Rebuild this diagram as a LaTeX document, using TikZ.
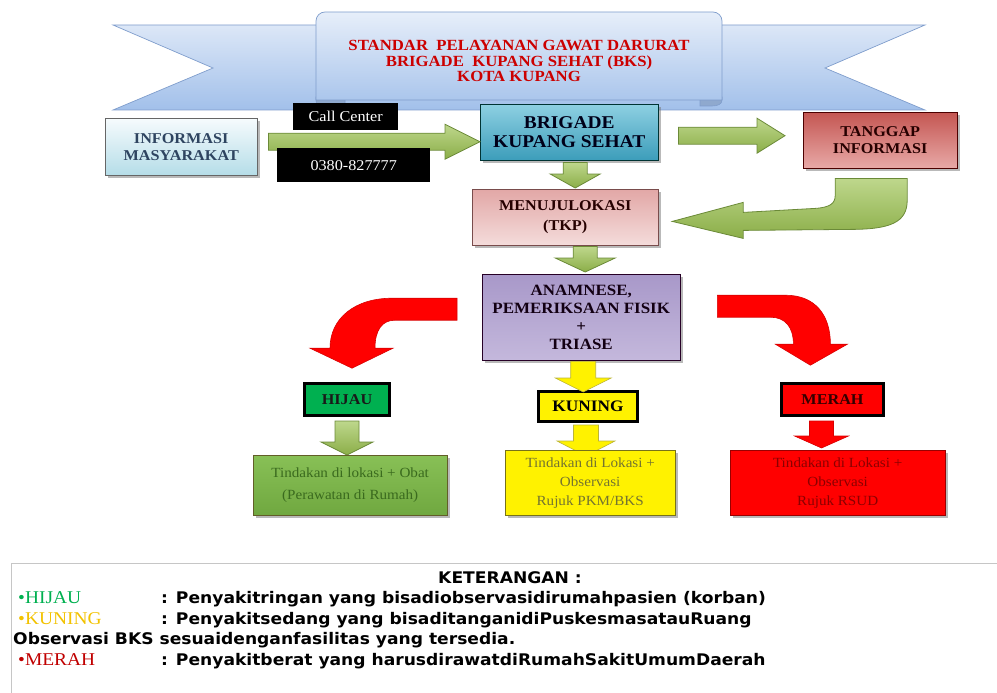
\documentclass[tikz,border=0pt]{standalone}
\usepackage{fontspec}
\setmainfont{Liberation Serif}[FakeStretch=1.08]
\newfontfamily\legfont{DejaVu Sans}[FakeStretch=1.07]
\usetikzlibrary{calc,shadows}
\definecolor{ribtop}{HTML}{DCE7F7}
\definecolor{ribbot}{HTML}{A2C0EA}
\definecolor{ribline}{HTML}{7F9DCC}
\definecolor{titlered}{HTML}{CC0000}
\definecolor{gtop}{HTML}{BED78C}
\definecolor{gbot}{HTML}{8BAE48}
\definecolor{gline}{HTML}{6B8A38}
\definecolor{hgreen}{HTML}{00B050}
\definecolor{kyellow}{HTML}{F2C200}
\definecolor{mred}{HTML}{C00000}
\definecolor{infotop}{HTML}{F6FBFD}
\definecolor{infobot}{HTML}{B5DDE8}
\definecolor{infotext}{HTML}{2E4460}
\definecolor{brigtop}{HTML}{8ED0E2}
\definecolor{brigbot}{HTML}{3C9DBA}
\definecolor{tangtop}{HTML}{C45652}
\definecolor{tangbot}{HTML}{E8A9A7}
\definecolor{menutop}{HTML}{E2A7A6}
\definecolor{menubot}{HTML}{F4DCDB}
\definecolor{anamtop}{HTML}{A898C9}
\definecolor{anammid}{HTML}{7C64A4}
\definecolor{anambot}{HTML}{C4B8DC}
\definecolor{restop}{HTML}{88C056}
\definecolor{resbot}{HTML}{70A840}
\definecolor{restext}{HTML}{3A6A1E}
\definecolor{ytext}{HTML}{747430}
\definecolor{rtext}{HTML}{8A0000}
\newcommand{\vblock}[6]{%
  \path[#1] let \p1=#2, \p2=#3 in
    (\x1-#4,\y1) -- (\x1+#4,\y1) -- (\x1+#4,\y2+#6) -- (\x1+#5,\y2+#6)
    -- (\x1,\y2) -- (\x1-#5,\y2+#6) -- (\x1-#4,\y2+#6) -- cycle;}
\newcommand{\hblock}[6]{%
  \path[#1] let \p1=#2, \p2=#3 in
    (\x1,\y1+#4) -- (\x2-#6,\y1+#4) -- (\x2-#6,\y1+#5) -- (\x2,\y1)
    -- (\x2-#6,\y1-#5) -- (\x2-#6,\y1-#4) -- (\x1,\y1-#4) -- cycle;}
\begin{document}
\begin{tikzpicture}[x=1pt,y=-1pt,
  box/.style={draw, anchor=north west, align=center, inner sep=2pt,
    drop shadow={shadow xshift=2.5pt, shadow yshift=-2.5pt, fill=black!55}},
  hdr/.style={box, font=\bfseries\fontsize{15}{17}\selectfont},
  blackbox/.style={anchor=north west, fill=black, text=white, inner sep=0pt,
    font=\fontsize{15}{17}\selectfont},
  tagbox/.style={anchor=north west, draw=black, line width=3pt, inner sep=0pt,
    font=\bfseries\fontsize{15}{17}\selectfont},
  resbox/.style={box, font=\fontsize{14}{19}\selectfont},
  garrow/.style={top color=gtop, bottom color=gbot, draw=gline, line width=0.8pt},
  yarrow/.style={fill=yellow, draw=yellow!70!black, line width=0.6pt},
  rarrow/.style={fill=red, draw=red!85!black, line width=0.6pt},
  legtxt/.style={anchor=base west, inner sep=0pt, font=\legfont\bfseries\fontsize{16}{20}\selectfont},
  legtag/.style={anchor=base west, inner sep=0pt, font=\fontsize{18}{20}\selectfont}
]
\useasboundingbox (0,0) rectangle (997,693);

% ---- ribbon banner ----
\path[top color=ribtop, bottom color=ribbot, draw=ribline, line width=0.7pt]
  (113,25) -- (925,25) -- (825,68) -- (925,110) -- (113,110) -- (213,68) -- cycle;
\path[fill=ribbot!80!black!60!ribbot, draw=ribline, line width=0.6pt]
  (316,97) -- (345,97) -- (345,108) -- (325,108) .. controls (318,108) and (316,104) .. (316,100) -- cycle;
\path[fill=ribbot!80!black!60!ribbot, draw=ribline, line width=0.6pt]
  (700,97) -- (722,97) -- (722,100) .. controls (722,104) and (718,106) .. (712,106) -- (700,106) -- cycle;
\path[top color=ribtop!70!white, bottom color=ribbot!85!ribtop, draw=ribline, line width=0.7pt]
  (316,100) [rounded corners=9pt] -- (316,12) -- (722,12) [sharp corners] -- (722,100) -- cycle;
\node[text=titlered, align=center, font=\bfseries\fontsize{15.5}{15.5}\selectfont] (title) at (519,61)
  {STANDAR\ \ PELAYANAN GAWAT DARURAT\\BRIGADE\ \ KUPANG SEHAT (BKS)\\KOTA KUPANG};

% ---- top row boxes ----
\node[hdr, minimum width=152pt, minimum height=57pt, top color=infotop, bottom color=infobot,
  draw=gray!80!black, text=infotext] (info) at (105,118) {INFORMASI\\MASYARAKAT};
\node[hdr, minimum width=178pt, minimum height=56pt, top color=brigtop, bottom color=brigbot,
  draw=teal!40!black, text=black!90!blue, font=\bfseries\fontsize{18}{19}\selectfont] (brig) at (480,104) {BRIGADE\\KUPANG SEHAT};
\node[hdr, minimum width=154pt, minimum height=56pt, top color=tangtop, bottom color=tangbot,
  draw=red!30!black, text=black!85!red] (tang) at (803,112) {TANGGAP\\INFORMASI};

% ---- arrows info -> brigade (under black boxes) ----
\hblock{garrow}{($(info.east)+(11,-5)$)}{($(brig.west)+(0,10)$)}{8.5pt}{17.5pt}{35pt}
\node[blackbox, minimum width=105pt, minimum height=27pt] (call) at (293,103) {Call Center};
\node[blackbox, minimum width=153pt, minimum height=34pt] (num) at (277,148) {0380-827777};

\hblock{garrow}{($(brig.east)+(20,3.5)$)}{($(tang.west)+(-18,0)$)}{8.5pt}{17.5pt}{28pt}

% ---- middle column ----
\node[hdr, minimum width=186pt, minimum height=56pt, top color=menutop, bottom color=menubot,
  draw=red!25!black!70, text=black!85!red, font=\bfseries\fontsize{15}{20}\selectfont] (menu) at (472,189) {MENUJULOKASI\\(TKP)};
\node[hdr, minimum width=198pt, minimum height=86pt, top color=anamtop, middle color=anammid,
  bottom color=anambot, draw=violet!30!black, text=black!85!violet,
  font=\bfseries\fontsize{15.7}{18}\selectfont] (anam) at (482,274) {ANAMNESE,\\PEMERIKSAAN FISIK\\+\\TRIASE};

\vblock{garrow}{($(brig.south)+(6,2)$)}{($(menu.north)+(6,-1)$)}{12pt}{25pt}{14pt}
\vblock{garrow}{($(menu.south)+(20,1)$)}{($(anam.north)+(0,-2)$)}{12pt}{30pt}{14pt}

% U-turn arrow from TANGGAP to MENUJU
\begin{scope}[shift={(tang.south)}]
\path[garrow] (-45,10) -- (27,10) -- (27,32) .. controls (27,54) and (10,61) .. (-30,61)
  -- (-137,62) -- (-137,70) -- (-208,53) -- (-137,34) -- (-137,44) -- (-65,40)
  .. controls (-50,39) and (-45,35) .. (-45,27) -- cycle;
\end{scope}

% ---- triage tags ----
\node[tagbox, minimum width=85pt, minimum height=32pt, fill=hgreen, text=black!90] (hijau) at (303,382) {HIJAU};
\node[tagbox, minimum width=99pt, minimum height=30pt, fill=yellow, text=black, font=\bfseries\fontsize{16}{18}\selectfont] (kuning) at (537,390) {KUNING};
\node[tagbox, minimum width=102pt, minimum height=32pt, fill=red, text=black!80!red] (merah) at (780,382) {MERAH};

% red curved arrows
\begin{scope}[shift={(anam.west)}]
\path[rarrow] (-25,-19) -- (-90,-19) .. controls (-127,-19) and (-152,1) .. (-152,31)
  -- (-172,31) -- (-130,51) -- (-89,31) -- (-107,31)
  .. controls (-107,13) and (-100,3) .. (-87,3) -- (-25,3) -- cycle;
\end{scope}
\begin{scope}[shift={(anam.east)}]
\path[rarrow] (37,-22) -- (105,-22) .. controls (135,-22) and (150,-2) .. (150,27)
  -- (167,27) -- (130,48) -- (95,27) -- (113,27)
  .. controls (113,10) and (105,0) .. (90,0) -- (37,0) -- cycle;
\end{scope}

\vblock{yarrow}{($(anam.south)+(2,1)$)}{($(kuning.north)+(-2,2)$)}{12.5pt}{28pt}{14pt}

% ---- result boxes ----
\vblock{garrow}{($(hijau.south)+(0,4)$)}{($(hijau.south)+(0,38)$)}{12pt}{26pt}{13pt}
\vblock{yarrow}{($(kuning.south)+(-2,2)$)}{($(kuning.south)+(-2,33)$)}{12.5pt}{29pt}{15pt}
\vblock{rarrow}{($(merah.south)+(-11,4)$)}{($(merah.south)+(-11,31)$)}{12pt}{27pt}{12pt}

\node[resbox, minimum width=194pt, minimum height=60pt, top color=restop, bottom color=resbot,
  draw=olive!60!black, text=restext, font=\fontsize{14}{22}\selectfont] (gbox) at (253,455)
  {Tindakan di lokasi + Obat\\(Perawatan di Rumah)};
\node[resbox, minimum width=170pt, minimum height=65pt, fill=yellow, draw=olive!80!black,
  text=ytext] (ybox) at (505,450) {Tindakan di Lokasi +\\Observasi\\Rujuk PKM/BKS};
\node[resbox, minimum width=215pt, minimum height=65pt, fill=red, draw=red!60!black,
  text=rtext] (rbox) at (730,450) {Tindakan di Lokasi +\\Observasi\\Rujuk RSUD};

% ---- legend ----
\draw[gray!45, line width=1pt] (11,563) rectangle (1010,705);
\node[legtxt, anchor=base] (ket) at (510,583) {KETERANGAN :};
\node[legtag, text=hgreen] (lh) at (18,603) {•HIJAU};
\node[legtxt] (th) at (161,603) {: Penyakitringan yang bisadiobservasidirumahpasien (korban)};
\node[legtag, text=kyellow] (lk) at (18,624) {•KUNING};
\node[legtxt] (tk) at (161,624) {: Penyakitsedang yang bisaditanganidiPuskesmasatauRuang};
\node[legtxt] (tk2) at (13,644) {Observasi BKS sesuaidenganfasilitas yang tersedia.};
\node[legtag, text=mred] (lm) at (18,665) {•MERAH};
\node[legtxt] (tm) at (161,665) {: Penyakitberat yang harusdirawatdiRumahSakitUmumDaerah};
\end{tikzpicture}
\end{document}
